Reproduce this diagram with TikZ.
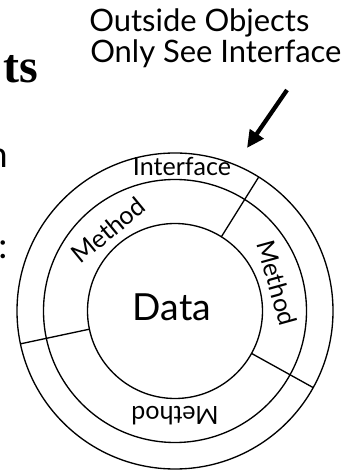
\documentclass[tikz,border=0pt]{standalone}
\usepackage{fontspec}
\setmainfont{Lato}
\newfontfamily\titlefont{Liberation Serif}
\usetikzlibrary{arrows.meta}
\begin{document}
\begin{tikzpicture}[x=0.75pt,y=0.75pt,
  ring/.style={circle, draw, line width=1pt, inner sep=0pt, outer sep=0pt},
  divider/.style={line width=1pt},
  lbl/.style={inner sep=0pt, font=\fontsize{18.8}{22}\selectfont},
  caption/.style={inner sep=0pt, font=\fontsize{23.2}{27}\selectfont},
  bodyfrag/.style={inner sep=0pt, font=\fontsize{27}{32}\selectfont},
  pointer/.style={line width=3.2pt, -{Triangle[length=13pt,width=12pt]}}]
\useasboundingbox (-175,-159) rectangle (181,311);

% the three concentric rings
\node[ring, minimum size=237pt] (outer) at (0,0) {};
\node[ring, minimum size=197.25pt] (middle) at (0,0) {};
\node[ring, minimum size=131.25pt] (inner) at (0,0) {};

% radial dividers between the methods
\draw[divider] (outer.58) -- (inner.58);
\draw[divider] (outer.192) -- (inner.192);
\draw[divider] (outer.-29.5) -- (inner.-29.5);

% ring labels
\node[lbl, anchor=base] (iface) at (7,135) {Interface};
\node[lbl, rotate=39.5] (m1) at (129.5:105) {Method};
\node[lbl, rotate=-74.6] (m2) at (15.4:106) {Method};
\node[lbl, rotate=180] (m3) at (-90:105) {Method};
\node[inner sep=0pt, font=\fontsize{28}{32}\selectfont] (data) at (-3,4) {Data};

% caption and pointer
\node[caption, anchor=base west] (cap1) at (-86,279) {Outside Objects};
\node[caption, anchor=base west] (cap2) at (-85,248) {Only See Interface};
\coordinate (tail) at (112,221);
\coordinate (tip) at (72,163);
\draw[pointer] (tail) -- (tip);

% text running in from the left edge
\node[inner sep=0pt, anchor=base east, font=\titlefont\bfseries\fontsize{36}{40}\selectfont] (title) at (-137,228) {ts};
\node[bodyfrag, anchor=base east] (frag1) at (-167,143) {n};
\node[bodyfrag, anchor=base] (frag2) at (-172,52) {:};
\end{tikzpicture}
\end{document}
